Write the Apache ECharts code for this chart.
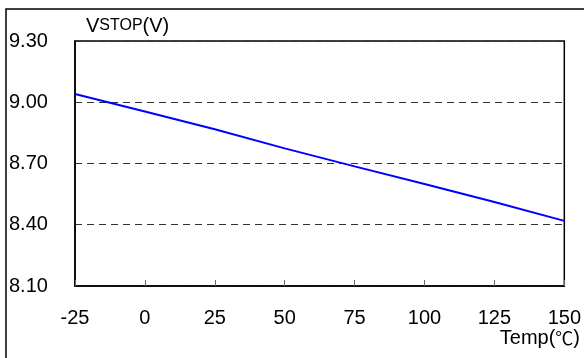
<!DOCTYPE html>
<html><head><meta charset="utf-8">
<script src="https://cdn.jsdelivr.net/npm/echarts@6/dist/echarts.min.js"></script>
<style>html,body{margin:0;padding:0;background:#fff}#c{width:584px;height:358px}</style>
</head><body><div id="c"></div>
<script>
var temps = [-25, 0, 25, 50, 75, 100, 125, 150];
var vstop = [9.04, 8.955, 8.868, 8.774, 8.686, 8.600, 8.511, 8.419];
var xTicks = [-25, 0, 25, 50, 75, 100, 125, 150];
var yTicks = [8.10, 8.40, 8.70, 9.00, 9.30];
var xTitle = 'Temp(℃)';

var FONT = 'Liberation Sans, Arial, sans-serif';
var chart = echarts.init(document.getElementById('c'), null, {renderer: 'canvas'});
chart.setOption({
  animation: false,
  backgroundColor: '#fff',
  grid: {left: 75, right: 19, top: 41, bottom: 72, show: true, borderColor: '#000', borderWidth: 1.5, backgroundColor: 'transparent'},
  xAxis: {
    type: 'value', min: xTicks[0], max: xTicks[xTicks.length - 1], interval: 25,
    axisLine: {show: true, onZero: false, lineStyle: {color: '#000', width: 1.5}},
    axisTick: {show: true, inside: true, length: 6, lineStyle: {color: '#666', width: 1}},
    axisLabel: {color: '#000', fontSize: 20, fontFamily: FONT, margin: 22},
    splitLine: {show: false}
  },
  yAxis: {
    type: 'value', min: yTicks[0], max: yTicks[yTicks.length - 1], interval: 0.3,
    axisLine: {show: true, onZero: false, lineStyle: {color: '#000', width: 1.5}},
    axisTick: {show: false},
    axisLabel: {color: '#000', fontSize: 20, fontFamily: FONT, align: 'left', margin: 66,
      formatter: function (v) { return v.toFixed(2); }},
    splitLine: {show: true, lineStyle: {color: '#333', width: 1, type: [7, 5]}}
  },
  series: [{
    type: 'line', data: temps.map(function (t, i) { return [t, vstop[i]]; }),
    symbol: 'none', lineStyle: {color: '#0000ff', width: 2}, z: 5
  }],
  graphic: [
    {type: 'rect', shape: {x: 6, y: 9, width: 700, height: 500}, style: {fill: 'none', stroke: '#000', lineWidth: 1.5}, silent: true, z: 0},
    {type: 'text', left: 86, top: 16, style: {
      text: '{a|V}{b|STOP}{a|(V)}', fill: '#000',
      rich: {a: {fontSize: 20, fontFamily: FONT, fill: '#000'}, b: {fontSize: 16, fontFamily: FONT, fill: '#000'}}
    }},
    {type: 'text', right: 4, top: 328, style: {
      text: '{a|Temp(}{c|℃}{a|)}', fill: '#000',
      rich: {a: {fontSize: 20, fontFamily: FONT, fill: '#000'}, c: {fontSize: 18, fontFamily: 'Noto Sans CJK KR, sans-serif', fill: '#000'}}
    }}
  ]
});
</script></body></html>
